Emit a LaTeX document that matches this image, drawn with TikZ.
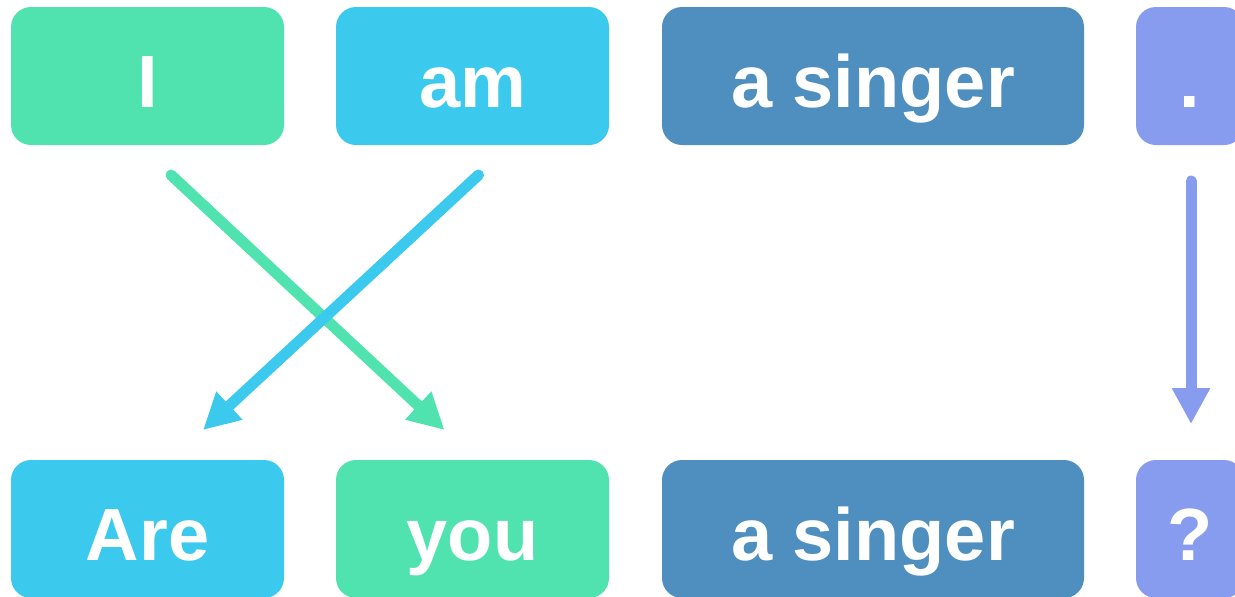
\documentclass[tikz,border=0pt]{standalone}
\usepackage{fontspec}
\setmainfont{Liberation Sans}
\usetikzlibrary{arrows.meta,positioning}

\definecolor{wgreen}{HTML}{50E3B0}
\definecolor{wblue}{HTML}{3BCAEE}
\definecolor{wsteel}{HTML}{4F8FBF}
\definecolor{wpurple}{HTML}{879BEF}

\begin{document}
\begin{tikzpicture}[x=0.5pt,y=-0.5pt,
  word/.style={rounded corners=10pt,minimum height=69pt,minimum width=136.5pt,
    text=white,inner sep=0pt,outer sep=0pt,text height=31pt,text depth=0pt,
    font=\fontsize{37}{44}\selectfont\bfseries},
  swap/.style={line width=5.5pt,line cap=round,-{Triangle[length=18pt,width=18pt]}}]
\useasboundingbox (0,0) rectangle (1235,596);
\clip (0,0) rectangle (1235,596);

\node [word, fill=wgreen] (I) at (147.5,76) {I};
\node [word, fill=wblue] (am) [right=26pt of I] {am};
\node [word, fill=wsteel, minimum width=211pt] (singer) [right=26.5pt of am] {a singer};
\node [word, fill=wpurple, minimum width=54pt] (dot) [right=26pt of singer] {.};

\node [word, fill=wblue] (Are) [below=157.5pt of I] {Are};
\node [word, fill=wgreen] (you) [below=157.5pt of am] {you};
\node [word, fill=wsteel, minimum width=211pt] (singer2) [below=157.5pt of singer] {a singer};
\node [word, fill=wpurple, minimum width=54pt] (q) [below=157.5pt of dot] {?};

\draw [swap, wgreen] ([xshift=11.75pt,yshift=-15pt]I.south) -- ([xshift=-14pt,yshift=15pt]you.north);
\draw [swap, wblue] ([xshift=3pt,yshift=-15pt]am.south) -- ([xshift=27.75pt,yshift=15pt]Are.north);
\draw [swap, wpurple] ([xshift=0.5pt,yshift=-18pt]dot.south) -- ([xshift=0.5pt,yshift=18pt]q.north);
\end{tikzpicture}
\end{document}
